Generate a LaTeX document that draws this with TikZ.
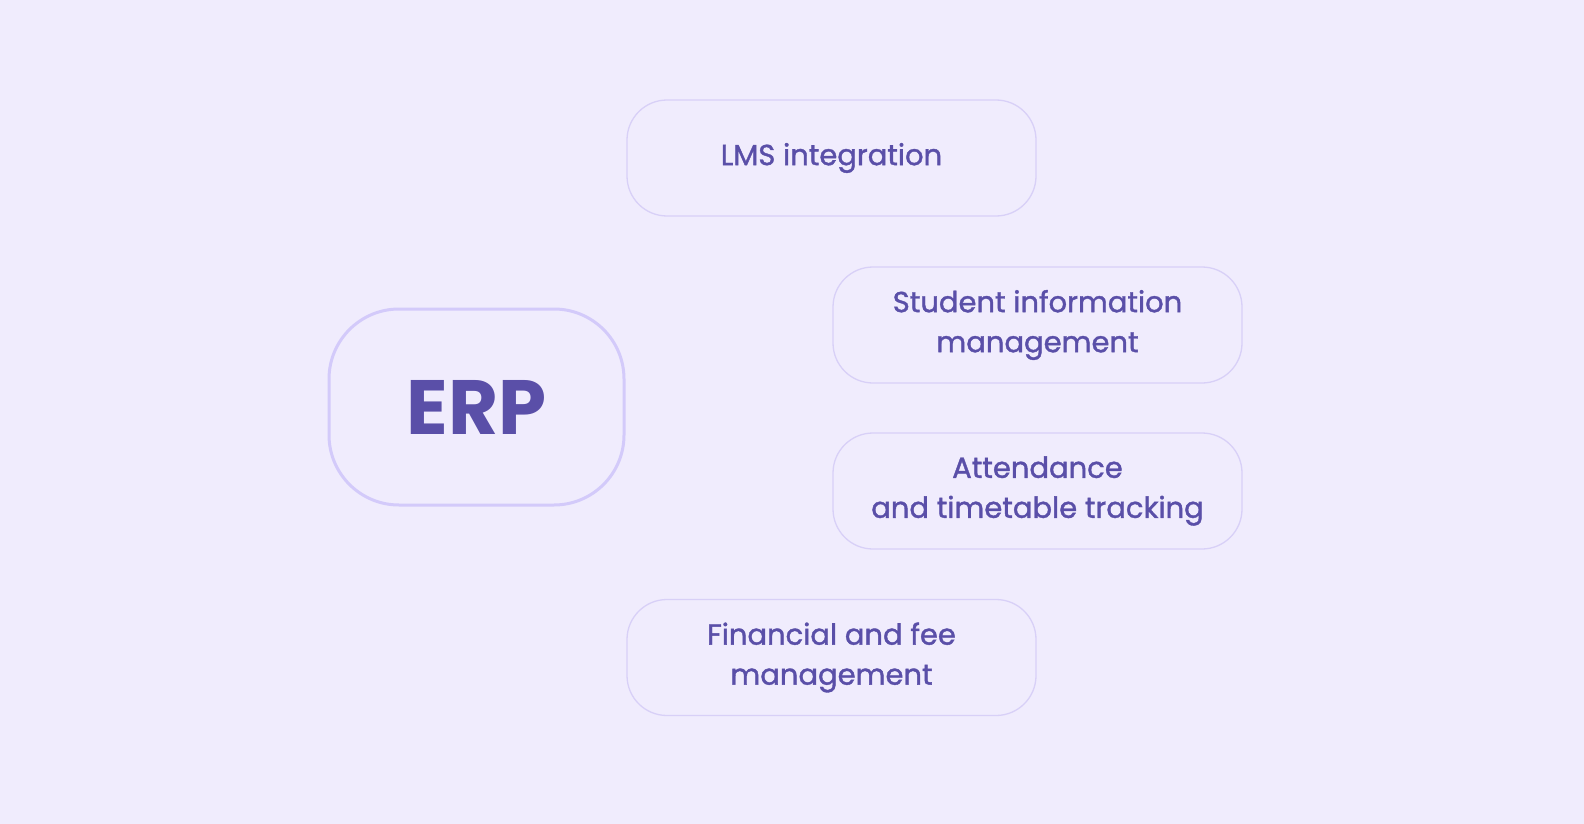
\documentclass[tikz,border=0pt]{standalone}
\usepackage{fontspec}
\setmainfont{Poppins}
\newfontfamily\medfont{Poppins}[FakeBold=1.3]
\definecolor{bgc}{HTML}{F0ECFD}
\definecolor{boxline}{HTML}{D8D0F7}
\definecolor{erpline}{HTML}{D3CAFA}
\definecolor{txt}{HTML}{5A4FA8}
\tikzset{
  feat/.style={draw=boxline, line width=1.3pt, fill=bgc, rounded corners=40pt,
    minimum width=409pt, minimum height=116pt, align=center, text=txt,
    font=\medfont\fontsize{29}{40}\selectfont, inner sep=0pt},
  hub/.style={draw=erpline, line width=3pt, fill=bgc, rounded corners=70pt,
    minimum width=295pt, minimum height=196pt, text=txt,
    font=\fontsize{77}{90}\selectfont\bfseries, inner sep=0pt}
}
\begin{document}
\begin{tikzpicture}[x=1pt,y=-1pt]
\fill[bgc] (0,0) rectangle (1584,824);
\useasboundingbox (0,0) rectangle (1584,824);
\node[hub] (erp) at (476.5,407) {ERP};
\node[feat] (lms) at (831.5,158) {LMS integration};
\node[feat] (sim) at (1037.5,325) {Student information\\management};
\node[feat] (att) at (1037.5,491) {Attendance\\and timetable tracking};
\node[feat] (fin) at (831.5,657.5) {Financial and fee\\management};
\end{tikzpicture}
\end{document}
